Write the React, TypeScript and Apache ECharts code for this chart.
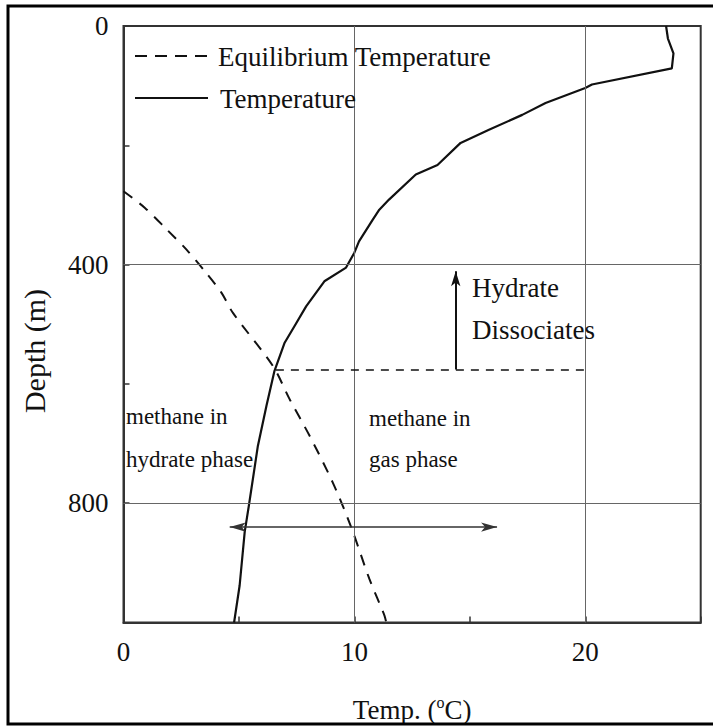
import React, { useEffect, useRef } from "react";
import * as echarts from "echarts";

// [temperature °C, depth m]
const temperatureProfile: [number, number][] = [
  [23.5, 0], [23.58, 21], [23.82, 46], [23.75, 71], [20.29, 98], [20.0, 104],
  [18.28, 129], [17.27, 149], [15.83, 174], [14.6, 196], [13.6, 233], [12.66, 249],
  [11.5, 291], [11.08, 308], [10.79, 325], [10.2, 361], [10.0, 380], [9.64, 405],
  [8.7, 428], [7.91, 470], [7.41, 503], [6.98, 531], [6.54, 578], [6.19, 637],
  [5.82, 704], [5.43, 804], [5.25, 848], [5.03, 938], [4.79, 1000],
];

const equilibriumProfile: [number, number][] = [
  [0, 277], [0.93, 305], [1.87, 341], [2.73, 375], [3.52, 411], [4.24, 447],
  [4.74, 481], [6.47, 570], [7.2, 626], [8.06, 687], [9.06, 765], [9.86, 840],
  [10.65, 927], [11.3, 988], [11.38, 1000],
];

const xTickLabels = [0, 10, 20];
const yTickLabels = [0, 400, 800];
const gridXValues = [10, 20];
const gridYValues = [400, 800];

const dissociationDepth = 576;
const dissociationRange = [6.6, 20];
const upArrowTemp = 14.39;
const upArrowDepths = [576, 411];
const phaseArrowDepth = 840;
const phaseArrowRange = [4.6, 16.18];

const FONT = "'Liberation Serif', 'DejaVu Serif', serif";
const INK = "#111";

export default function App() {
  const ref = useRef<HTMLDivElement>(null);

  useEffect(() => {
    if (!ref.current) return;
    const chart = echarts.init(ref.current, null, { renderer: "svg" });

    const txt = (text: string, x: number, y: number, size: number, extra: any = {}) => ({
      type: "text",
      x,
      y,
      silent: true,
      z: 100,
      ...extra,
      style: {
        text,
        fill: INK,
        font: `${size}px ${FONT}`,
        align: "left",
        verticalAlign: "middle",
        ...(extra.style || {}),
      },
    });

    const option: any = {
      animation: false,
      backgroundColor: "#ffffff",
      grid: {
        left: 123.5,
        top: 26,
        right: 12.3,
        bottom: 105.3,
        show: true,
        borderColor: "#333",
        borderWidth: 2,
        backgroundColor: "transparent",
      },
      xAxis: {
        type: "value",
        min: 0,
        max: 25,
        interval: 5,
        position: "bottom",
        axisLine: { show: true, onZero: false, lineStyle: { color: "#333", width: 2 } },
        axisTick: { show: true, inside: true, length: 6, lineStyle: { color: "#333", width: 1.5 } },
        splitLine: { show: false },
        axisLabel: {
          margin: 16,
          fontFamily: FONT,
          fontSize: 27,
          color: INK,
          formatter: (v: number) => (xTickLabels.includes(v) ? String(v) : ""),
        },
        name: "{a|Temp. (}{s|o}{a|C)}",
        nameLocation: "middle",
        nameGap: 72,
        nameTextStyle: {
          rich: {
            a: { fontFamily: FONT, fontSize: 27, color: INK },
            s: { fontFamily: FONT, fontSize: 16, color: INK, padding: [0, 0, 14, 0] },
          },
        },
      },
      yAxis: {
        type: "value",
        inverse: true,
        min: 0,
        max: 1000,
        interval: 200,
        axisLine: { show: true, onZero: false, lineStyle: { color: "#333", width: 2 } },
        axisTick: { show: true, inside: true, length: 6, lineStyle: { color: "#333", width: 1.5 } },
        splitLine: { show: false },
        axisLabel: {
          margin: 15,
          fontFamily: FONT,
          fontSize: 27,
          color: INK,
          formatter: (v: number) => (yTickLabels.includes(v) ? String(v) : ""),
        },
      },
      graphic: [
        {
          type: "rect",
          silent: true,
          shape: { x: 8, y: 6, width: 720, height: 718 },
          style: { fill: "none", stroke: "#000", lineWidth: 3 },
          z: 100,
        },
        {
          type: "line",
          silent: true,
          z: 100,
          shape: { x1: 135, y1: 56, x2: 208, y2: 56 },
          style: { stroke: INK, lineWidth: 2, lineDash: [12, 8] },
        },
        {
          type: "line",
          silent: true,
          z: 100,
          shape: { x1: 135, y1: 98, x2: 208, y2: 98 },
          style: { stroke: INK, lineWidth: 2 },
        },
        txt("Equilibrium Temperature", 218, 57, 27),
        txt("Temperature", 220, 99, 27),
        txt("Hydrate", 472, 288, 27),
        txt("Dissociates", 472, 330, 27),
        txt("methane in", 126, 416, 23),
        txt("hydrate phase", 126, 459, 23),
        txt("methane in", 369, 418, 23),
        txt("gas phase", 369, 459, 23),
        txt("Depth (m)", 34, 351, 30, {
          rotation: Math.PI / 2,
          style: { align: "center" },
        }),
      ],
      series: [
        {
          name: "grid",
          type: "line",
          data: [],
          silent: true,
          z: 1,
          markLine: {
            silent: true,
            symbol: ["none", "none"],
            label: { show: false },
            lineStyle: { color: "#666", width: 1, type: "solid" },
            data: [
              ...gridXValues.map((v) => ({ xAxis: v })),
              ...gridYValues.map((v) => ({ yAxis: v })),
            ],
          },
        },
        {
          name: "Equilibrium Temperature",
          type: "line",
          data: equilibriumProfile,
          showSymbol: false,
          smooth: 0.3,
          silent: true,
          z: 3,
          lineStyle: { color: INK, width: 2, type: [11, 9] },
        },
        {
          name: "Temperature",
          type: "line",
          data: temperatureProfile,
          showSymbol: false,
          silent: true,
          z: 4,
          lineStyle: { color: INK, width: 2.2 },
        },
        {
          name: "annotations",
          type: "line",
          data: [],
          silent: true,
          z: 5,
          markLine: {
            silent: true,
            label: { show: false },
            emphasis: { disabled: true },
            data: [
              [
                { coord: [dissociationRange[0], dissociationDepth], symbol: "none", lineStyle: { color: INK, width: 1.5, type: [8, 7] } },
                { coord: [dissociationRange[1], dissociationDepth], symbol: "none" },
              ],
              [
                { coord: [upArrowTemp, upArrowDepths[0]], symbol: "none", lineStyle: { color: INK, width: 2, type: "solid" } },
                { coord: [upArrowTemp, upArrowDepths[1]], symbol: "arrow", symbolSize: [7, 15] },
              ],
              [
                { coord: [phaseArrowRange[0], phaseArrowDepth], symbol: "arrow", symbolSize: [7, 16], lineStyle: { color: "#333", width: 1.5, type: "solid" } },
                { coord: [phaseArrowRange[1], phaseArrowDepth], symbol: "arrow", symbolSize: [7, 16] },
              ],
            ],
          },
        },
      ],
    };

    chart.setOption(option);
    return () => chart.dispose();
  }, []);

  return (
    <div
      ref={ref}
      style={{ position: "fixed", left: 0, top: 0, width: 713, height: 728, background: "#fff" }}
    />
  );
}
